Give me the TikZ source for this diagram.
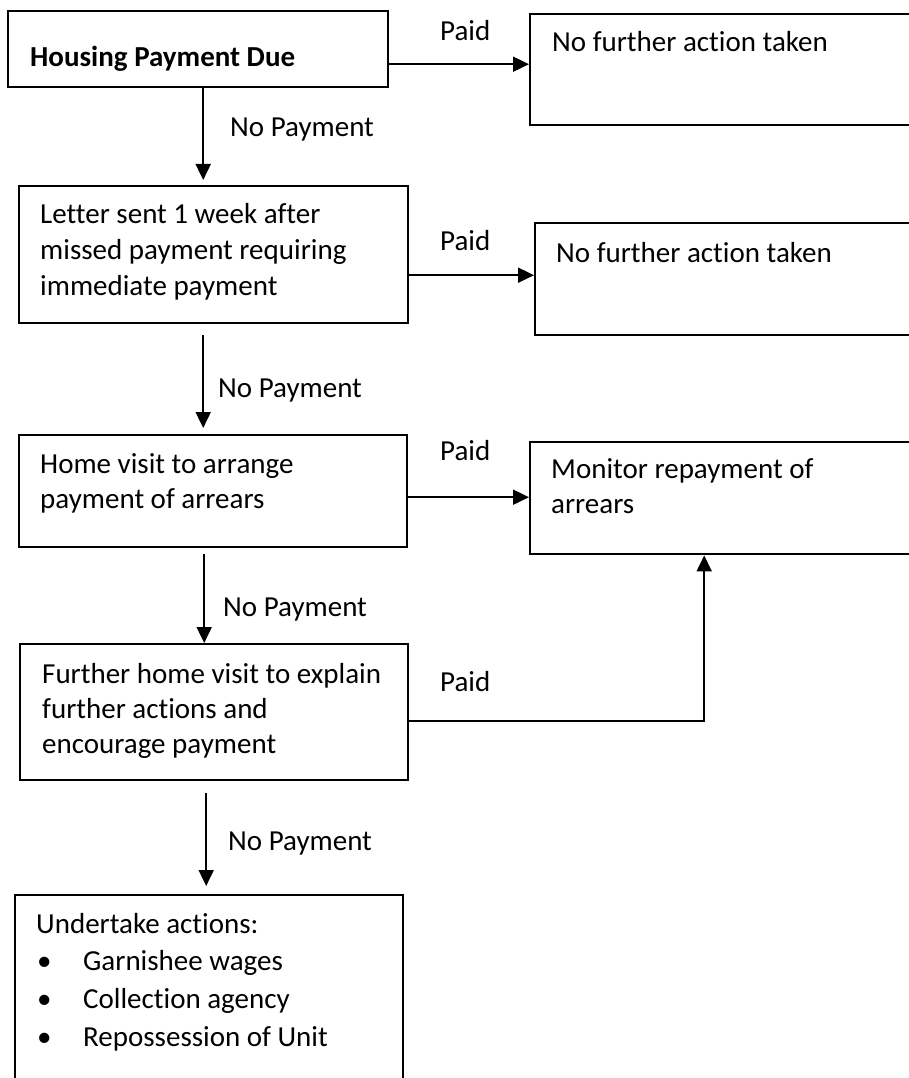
\documentclass[tikz,border=0pt]{standalone}
\usepackage{fontspec}
\setmainfont{Carlito}[Ligatures=NoCommon]
\usetikzlibrary{arrows.meta}
\begin{document}
\begin{tikzpicture}[x=1pt,y=-1pt,
  box/.style={draw, line width=2.4pt, inner sep=0pt, anchor=north west},
  txt/.style={anchor=base west, inner sep=0pt, font=\fontsize{29}{36}\selectfont},
  txtb/.style={anchor=base west, inner sep=0pt, font=\fontsize{29}{35}\selectfont},
  txtl/.style={anchor=base west, inner sep=0pt, font=\fontsize{29}{37.7}\selectfont},
  arr/.style={line width=1.9pt, -{Triangle[length=16pt,width=15pt]}}]
\useasboundingbox (0,0) rectangle (909,1078);
\clip (0,0) rectangle (909,1078);

% boxes
\node[box, minimum width=380pt, minimum height=76pt] (b1) at (7,10) {};
\node[box, minimum width=400pt, minimum height=111pt] (b2) at (529,13) {};
\node[box, minimum width=389pt, minimum height=137pt] (b3) at (18,185) {};
\node[box, minimum width=400pt, minimum height=112pt] (b4) at (534,222) {};
\node[box, minimum width=388pt, minimum height=112pt] (b5) at (18,434) {};
\node[box, minimum width=400pt, minimum height=112pt] (b6) at (529,441) {};
\node[box, minimum width=388pt, minimum height=136pt] (b7) at (19,643) {};
\node[box, minimum width=388pt, minimum height=220pt] (b8) at (14,894) {};

% box texts
\node[txt] (t1) at (30,67) {\bfseries Housing Payment Due};
\node[txt] (t2) at (552,52) {No further action taken};
\node[txt] (t3) at (40,223) {\begin{tabular}[t]{@{}l@{}}Letter sent 1 week after\\missed payment requiring\\immediate payment\end{tabular}};
\node[txt] (t4) at (556,262) {No further action taken};
\node[txtb] (t5) at (40,473) {\begin{tabular}[t]{@{}l@{}}Home visit to arrange\\payment of arrears\end{tabular}};
\node[txtb] (t6) at (551,478) {\begin{tabular}[t]{@{}l@{}}Monitor repayment of\\arrears\end{tabular}};
\node[txtb] (t7) at (42,683) {\begin{tabular}[t]{@{}l@{}}Further home visit to explain\\further actions and\\encourage payment\end{tabular}};
\node[txtl] (t8) at (36,933) {\begin{tabular}[t]{@{}p{47pt}@{}l@{}}\multicolumn{2}{@{}l@{}}{Undertake actions:}\\
\hspace*{1pt}•&Garnishee wages\\
\hspace*{1pt}•&Collection agency\\
\hspace*{1pt}•&Repossession of Unit\end{tabular}};

% vertical "No Payment" arrows
\draw[arr, shorten >=5pt] ([xshift=5pt]b1.south) -- ([xshift=5pt]b1.south |- b3.north);
\draw[arr, shorten <=11pt, shorten >=6pt] ([xshift=-10.5pt]b3.south) -- ([xshift=-10.5pt]b3.south |- b5.north);
\draw[arr, shorten <=6pt] ([xshift=-9pt]b5.south) -- ([xshift=-9pt]b5.south |- b7.north);
\draw[arr, shorten <=12pt, shorten >=8pt] ([xshift=-8pt]b7.south) -- ([xshift=-8pt]b7.south |- b8.north);

% horizontal "Paid" arrows
\draw[arr] ([yshift=-15pt]b1.east) -- ([yshift=-15pt]b1.east -| b2.west);
\draw[arr] ([yshift=-20.5pt]b3.east) -- ([yshift=-20.5pt]b3.east -| b4.west);
\draw[arr] ([yshift=-6pt]b5.east) -- ([yshift=-6pt]b5.east -| b6.west);
\draw[arr] ([yshift=-9pt]b7.east) -| ([xshift=-26pt]b6.south);

% labels
\node[txt] (l1) at (440,41) {Paid};
\node[txt] (l2) at (440,250) {Paid};
\node[txt] (l3) at (440,460) {Paid};
\node[txt] (l4) at (440,691) {Paid};
\node[txt] (n1) at (230,137) {No Payment};
\node[txt] (n2) at (218,397) {No Payment};
\node[txt] (n3) at (223,616) {No Payment};
\node[txt] (n4) at (228,850) {No Payment};
\end{tikzpicture}
\end{document}
